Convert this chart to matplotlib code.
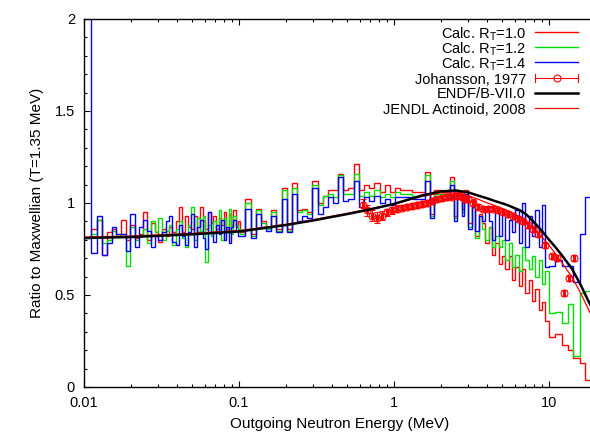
import matplotlib
matplotlib.use("Agg")
import matplotlib.pyplot as plt
from matplotlib.ticker import MultipleLocator, LogLocator, NullFormatter

plt.rcParams['font.family'] = ['Liberation Sans', 'DejaVu Sans']
plt.rcParams['font.size'] = 10.5
plt.rcParams['mathtext.fontset'] = 'custom'
plt.rcParams['mathtext.rm'] = 'Liberation Sans'
plt.rcParams['mathtext.it'] = 'Liberation Sans:italic'

# histogram bin edges (MeV), shared by the three calculations
edges = [0.0100, 0.0111, 0.0121, 0.0131, 0.0141, 0.0151, 0.0162, 0.0174, 0.0186, 0.0199,
         0.0212, 0.0226, 0.0240, 0.0255, 0.0270, 0.0286, 0.0302, 0.0319, 0.0336, 0.0354,
         0.0372, 0.0391, 0.0410, 0.0430, 0.0450, 0.0470, 0.0490, 0.0512, 0.0535, 0.0558,
         0.0582, 0.0606, 0.0631, 0.0657, 0.0684, 0.0711, 0.0739, 0.0768, 0.0797, 0.0827,
         0.0858, 0.0889, 0.0920, 0.0952, 0.0985, 0.102,
         0.110, 0.119, 0.128, 0.138, 0.149, 0.161, 0.174, 0.188, 0.203, 0.219,
         0.236, 0.255, 0.275, 0.297, 0.321, 0.346, 0.374, 0.404, 0.436, 0.471,
         0.508, 0.549, 0.593, 0.640, 0.691, 0.746, 0.806, 0.870, 0.940, 1.015,
         1.094, 1.30, 1.585, 1.71, 1.81, 2.05, 2.30, 2.44, 2.54, 2.73, 2.83, 3.02,
         3.17, 3.34, 3.51, 3.69, 3.87, 4.07, 4.28, 4.50, 4.73, 4.97, 5.22, 5.49,
         5.77, 6.06, 6.37, 6.69, 7.03, 7.39, 7.77, 8.16, 8.58, 9.02, 9.48, 10.0,
         10.93, 12.13, 13.27, 14.3, 15.85, 17.06, 20.0]

calc_10 = [0.81, 0.86, 0.91, 0.72, 0.84, 0.86, 0.82, 0.91, 0.80, 0.88,
           0.81, 0.83, 0.95, 0.80, 0.89, 0.84, 0.79, 0.86, 0.82, 0.87,
           0.84, 0.90, 0.98, 0.84, 0.93, 0.87, 0.86, 0.93, 0.84, 0.98,
           0.90, 0.86, 0.95, 0.89, 0.93, 0.86, 0.92, 0.88, 0.95, 0.86,
           0.94, 0.88, 0.96, 0.87, 0.90,
           0.84, 1.02, 0.83, 0.97, 0.90, 0.87, 0.96, 0.86, 1.08, 0.86,
           1.11, 0.96, 0.97, 0.95, 1.12, 1.00, 1.04, 1.07, 1.07, 1.16,
           1.07, 1.08, 1.21, 1.07, 1.10, 1.08, 1.11, 1.06, 1.10, 1.06,
           1.08, 1.07, 1.06, 1.17, 0.94, 1.07, 1.06, 1.14, 0.93, 1.06, 0.97, 1.07,
           0.89, 1.02, 0.82, 0.94, 0.89, 0.78, 0.87, 0.72, 0.78, 0.67, 0.71, 0.64,
           0.71, 0.58, 0.65, 0.55, 0.64, 0.51, 0.58, 0.47, 0.53, 0.42, 0.46, 0.36,
           0.27, 0.29, 0.23, 0.20, 0.16, 0.13, 0.04]

calc_12 = [0.81, 0.83, 0.91, 0.78, 0.80, 0.85, 0.82, 0.83, 0.66, 0.87,
           0.80, 0.82, 0.86, 0.78, 0.90, 0.84, 0.92, 0.80, 0.85, 0.88,
           0.77, 0.86, 0.90, 0.81, 0.76, 0.88, 0.98, 0.80, 0.92, 0.85,
           0.93, 0.68, 0.88, 0.82, 0.90, 0.84, 0.96, 0.80, 0.92, 0.85,
           0.97, 0.83, 0.93, 0.88, 0.86,
           0.83, 1.00, 0.82, 0.96, 0.89, 0.86, 0.95, 0.85, 1.07, 0.85,
           1.08, 0.95, 0.96, 0.94, 1.10, 0.99, 1.04, 1.05, 1.03, 1.15,
           1.05, 1.05, 1.16, 1.04, 1.06, 1.04, 1.07, 1.03, 1.05, 1.03,
           1.06, 1.05, 1.04, 1.15, 0.93, 1.05, 1.05, 1.12, 0.92, 1.04, 0.95, 1.05,
           0.87, 0.98, 0.81, 0.93, 0.86, 0.80, 0.87, 0.76, 0.82, 0.76, 0.80, 0.69,
           0.78, 0.65, 0.72, 0.63, 0.76, 0.69, 0.64, 0.71, 0.60, 0.69, 0.56, 0.63,
           0.40, 0.41, 0.35, 0.45, 0.17, 0.51, 0.52]

calc_14 = [2.5, 0.73, 0.93, 0.72, 0.78, 0.87, 0.83, 0.83, 0.74, 0.94,
           0.76, 0.87, 0.91, 0.85, 0.76, 0.82, 0.80, 0.84, 0.90, 0.93,
           0.79, 0.77, 0.88, 0.82, 0.77, 0.84, 0.94, 0.76, 0.87, 0.91,
           0.81, 0.75, 0.95, 0.84, 0.79, 0.88, 0.83, 0.91, 0.80, 0.87,
           0.78, 0.87, 0.91, 0.85, 0.82,
           0.82, 0.97, 0.81, 0.94, 0.87, 0.85, 0.93, 0.84, 1.02, 0.84,
           1.05, 0.90, 0.93, 0.92, 1.08, 0.94, 0.98, 1.03, 1.00, 1.14,
           1.01, 1.02, 1.12, 0.98, 1.03, 1.01, 1.04, 1.00, 1.02, 0.99,
           1.03, 1.03, 1.02, 1.12, 0.92, 1.03, 1.02, 1.10, 0.90, 1.04, 0.93, 1.05,
           0.86, 0.98, 0.85, 0.93, 0.90, 0.98, 0.90, 0.80, 0.96, 0.82, 0.94, 0.80,
           0.91, 0.84, 0.96, 0.78, 1.00, 0.76, 0.93, 0.82, 0.96, 0.76, 0.99, 0.65,
           0.66, 0.69, 0.66, 0.66, 0.57, 0.83, 1.03]

# Johansson 1977 measurement
joh_e = [0.63, 0.67, 0.72, 0.78, 0.84, 0.90, 0.97, 1.05, 1.13, 1.21,
         1.31, 1.41, 1.52, 1.63, 1.76, 1.89, 2.04, 2.20, 2.37, 2.55,
         2.75, 2.87, 3.00, 3.23, 3.48, 3.75, 4.04, 4.35, 4.69, 5.05,
         5.44, 5.86, 6.31, 6.79, 7.32, 7.88, 8.49, 9.42, 10.45, 11.26,
         12.5, 13.5, 14.5]
joh_v = [0.99, 0.96, 0.93, 0.92, 0.93, 0.95, 0.96, 0.97, 0.975, 0.98,
         0.985, 0.99, 0.995, 1.00, 1.01, 1.02, 1.025, 1.03, 1.035, 1.04,
         1.035, 1.02, 1.02, 1.00, 0.98, 0.97, 0.97, 0.97, 0.96, 0.95,
         0.94, 0.93, 0.915, 0.90, 0.88, 0.86, 0.83, 0.77, 0.71, 0.70,
         0.51, 0.59, 0.70]
joh_dv = [0.03, 0.03, 0.03, 0.03, 0.025, 0.02, 0.02, 0.02, 0.015, 0.015,
          0.015, 0.015, 0.015, 0.015, 0.015, 0.015, 0.015, 0.015, 0.015, 0.015,
          0.015, 0.015, 0.015, 0.015, 0.015, 0.015, 0.015, 0.015, 0.015, 0.015,
          0.015, 0.015, 0.015, 0.015, 0.015, 0.015, 0.015, 0.015, 0.015, 0.015,
          0.015, 0.015, 0.015]
joh_res = 0.015

# evaluations
eval_e = [0.01, 0.02, 0.05, 0.1, 0.2, 0.3, 0.5, 0.7, 1.0, 1.5, 2.0, 2.5, 3.0, 3.5,
          4.0, 4.5, 5.0, 5.5, 6.0, 6.5, 7.0, 7.5, 8.0, 9.0, 10.0, 11.0, 12.0,
          14.0, 16.0, 18.0, 20.0]
endf_v = [0.81, 0.815, 0.83, 0.845, 0.88, 0.905, 0.94, 0.965, 0.995, 1.04, 1.063, 1.068, 1.058, 1.04,
          1.025, 1.01, 0.998, 0.986, 0.972, 0.96, 0.943, 0.92, 0.895, 0.848, 0.80, 0.76, 0.72,
          0.645, 0.555, 0.465, 0.39]
jendl_v = [0.815, 0.82, 0.835, 0.85, 0.884, 0.909, 0.944, 0.968, 0.995, 1.035, 1.055, 1.055, 1.04, 1.02,
           1.0, 0.985, 0.97, 0.955, 0.94, 0.923, 0.905, 0.883, 0.86, 0.815, 0.77, 0.725, 0.68,
           0.60, 0.51, 0.42, 0.34]

red = '#ff0000'
green = '#00e000'
blue = '#0000ff'

fig = plt.figure(figsize=(5.9, 4.33), dpi=100)
ax = fig.add_axes([84/590, 46/433, 511.7/590, 368/433])

ax.stairs(calc_10, edges, color=red, lw=1.0, baseline=None)
ax.stairs(calc_12, edges, color=green, lw=1.0, baseline=None)
ax.stairs(calc_14, edges, color=blue, lw=1.0, baseline=None)
ax.errorbar(joh_e, joh_v, yerr=joh_dv, xerr=[e * joh_res for e in joh_e], fmt='o', ms=5,
            mfc='none', mec=red, mew=0.8, ecolor=red, elinewidth=0.7, capsize=2, zorder=3)
ax.plot(eval_e, jendl_v, color=red, lw=0.9, zorder=4)
ax.plot(eval_e, endf_v, color='black', lw=1.8, zorder=5)

ax.set_xscale('log')
ax.set_xlim(0.01, 20)
ax.set_ylim(0, 2)
ax.set_xticks([0.01, 0.1, 1, 10], labels=['0.01', '0.1', '1', '10'])
ax.xaxis.set_minor_locator(LogLocator(base=10, subs=range(2, 10)))
ax.xaxis.set_minor_formatter(NullFormatter())
ax.set_yticks([0, 0.5, 1, 1.5, 2], labels=['0', '0.5', '1', '1.5', '2'])
ax.yaxis.set_minor_locator(MultipleLocator(0.1))
ax.tick_params(which='both', direction='in', top=True, right=True, width=0.8)
ax.tick_params(which='major', length=4.5, pad=6.5)
ax.tick_params(which='minor', length=2.5)
for s in ax.spines.values():
    s.set_linewidth(1.0)

ax.set_xlabel('Outgoing Neutron Energy (MeV)', fontsize=11, labelpad=5)
ax.set_ylabel('Ratio to Maxwellian (T=1.35 MeV)', fontsize=11)
ax.yaxis.set_label_coords(-0.078, 0.5)

# key, gnuplot style: text right-justified, sample on the right
def px(x, y):
    return (x - 84) / 511.7, (387 - y) / 368

labels = ['Calc. R$_\\mathrm{T}$=1.0', 'Calc. R$_\\mathrm{T}$=1.2', 'Calc. R$_\\mathrm{T}$=1.4',
          'Johansson, 1977', 'ENDF/B-VII.0', 'JENDL Actinoid, 2008']
rows = [32, 47, 62, 78, 93, 108]
for lab, yy in zip(labels, rows):
    tx, ty = px(526, yy)
    ax.text(tx, ty, lab, transform=ax.transAxes, ha='right', va='center_baseline')

x0, _ = px(535, 0)
x1, _ = px(578, 0)
xm, _ = px(556.5, 0)
for col, yy, lw in [(red, 32, 1.0), (green, 47, 1.0), (blue, 62, 1.0), ('black', 93, 1.8), (red, 108, 0.9)]:
    _, ty = px(0, yy)
    ax.plot([x0, x1], [ty, ty], color=col, lw=lw, transform=ax.transAxes, clip_on=False)
_, ty = px(0, 78)
_, dy = px(0, 387 - 4)
ax.plot([x0, x1], [ty, ty], color=red, lw=0.8, transform=ax.transAxes, clip_on=False)
for xe in (x0, x1):
    ax.plot([xe, xe], [ty - dy, ty + dy], color=red, lw=0.8, transform=ax.transAxes, clip_on=False)
ax.plot([xm], [ty], 'o', ms=5, mfc='none', mec=red, mew=0.8, transform=ax.transAxes, clip_on=False)

fig.savefig('out.png', dpi=100)
